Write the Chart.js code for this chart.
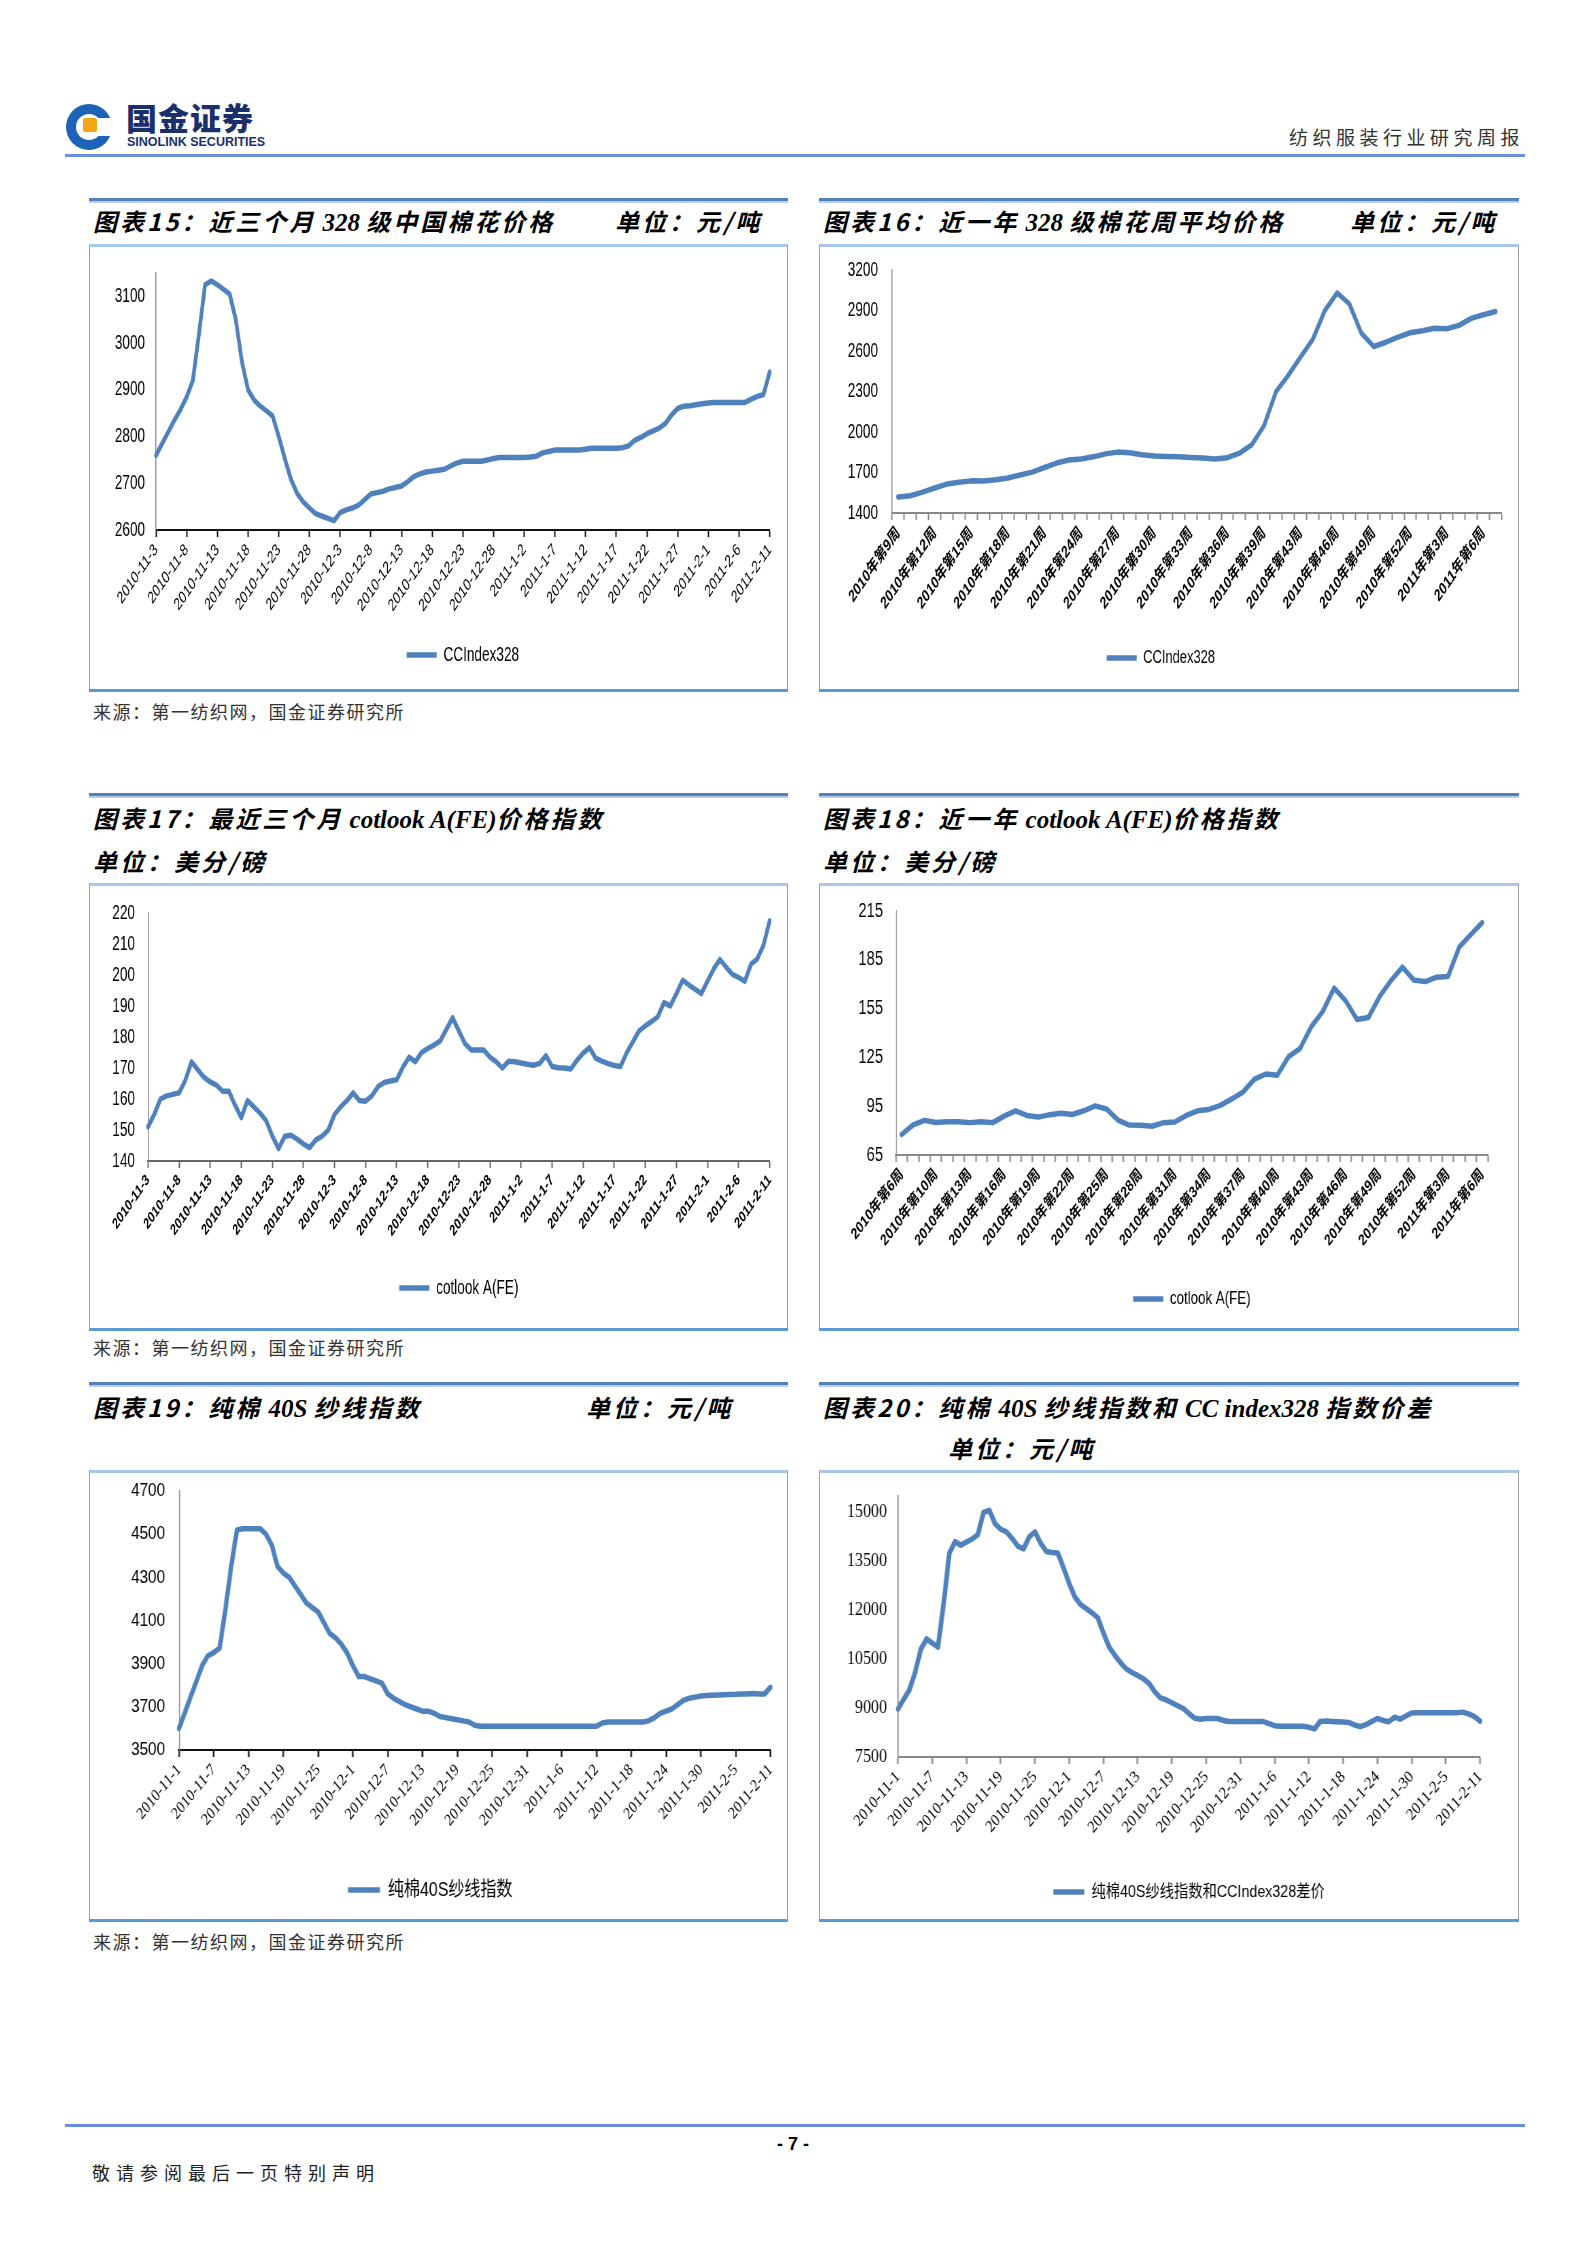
<!DOCTYPE html>
<html>
<head>
<meta charset="utf-8">
<title>纺织服装行业研究周报 - 7</title>
<script src="https://cdn.jsdelivr.net/npm/chart.js@4.4.1/dist/chart.umd.min.js"></script>
<style>
body { margin: 0; background: #fff; }
#page { position: relative; width: 1594px; height: 2252px; overflow: hidden; font-family: "Noto Sans CJK SC", sans-serif; color: #000; }
.abs { position: absolute; white-space: nowrap; line-height: 1; }
.rule { position: absolute; height: 3px; background: #4f81bd; border-bottom: 2px solid #b8cce4; }
.title { position: absolute; font-size: 24px; font-weight: bold; font-style: italic; letter-spacing: 3px; white-space: nowrap; line-height: 1; }
.title .lat { font-family: "Liberation Serif", serif; letter-spacing: 0; font-size: 25px; }
.box { position: absolute; border: 1px solid #a0a0a0; border-top: 3px solid #a9c7ea; box-sizing: border-box; }
.boxbot { position: absolute; height: 3px; background: #5b9bd5; }
.src { position: absolute; font-size: 18px; letter-spacing: 1.5px; color: #333; line-height: 1; white-space: nowrap; }
.wrap { position: absolute; transform-origin: 0 0; }
</style>
</head>
<body>
<div id="page">
  <!-- header -->
  <svg class="abs" style="left:64px;top:97px" width="52" height="56" viewBox="0 0 52 56">
    <circle cx="25" cy="30" r="23" fill="#1d64b8"/>
    <circle cx="25" cy="30" r="13" fill="#fff"/>
    <rect x="28" y="21" width="24" height="18" fill="#fff"/>
    <rect x="19" y="21" width="14" height="14" rx="2" fill="#f3a712"/>
  </svg>
  <div class="abs" style="left:126px;top:101px;font-size:31px;font-weight:900;color:#1b2f6b;letter-spacing:1px;">国金证券</div>
  <div class="abs" style="left:127px;top:136px;font-size:12.5px;font-weight:bold;font-family:'Liberation Sans',sans-serif;color:#1b2f6b;">SINOLINK SECURITIES</div>
  <div class="abs" style="left:1289px;top:127px;font-size:19px;letter-spacing:4.5px;color:#333;">纺织服装行业研究周报</div>
  <div class="abs" style="left:65px;top:154px;width:1460px;height:3px;background:#6a8ee0;"></div>

  <!-- row 1 -->
  <div class="rule" style="left:89px;top:198px;width:699px;"></div>
  <div class="rule" style="left:819px;top:198px;width:700px;"></div>
  <div class="title" style="left:93px;top:209px;">图表15：近三个月<span class="lat"> 328 </span>级中国棉花价格</div>
  <div class="title" style="left:615px;top:209px;">单位：元/吨</div>
  <div class="title" style="left:823px;top:209px;">图表16：近一年<span class="lat"> 328 </span>级棉花周平均价格</div>
  <div class="title" style="left:1350px;top:209px;">单位：元/吨</div>
  <div class="box" style="left:89px;top:244px;width:699px;height:446px;"></div>
  <div class="boxbot" style="left:89px;top:689px;width:699px;"></div>
  <div class="box" style="left:819px;top:244px;width:700px;height:446px;"></div>
  <div class="boxbot" style="left:819px;top:689px;width:700px;"></div>
  <div class="src" style="left:93px;top:702px;">来源：第一纺织网，国金证券研究所</div>

  <!-- row 2 -->
  <div class="rule" style="left:89px;top:793px;width:699px;"></div>
  <div class="rule" style="left:819px;top:793px;width:700px;"></div>
  <div class="title" style="left:93px;top:806px;">图表17：最近三个月<span class="lat"> cotlook A(FE)</span>价格指数</div>
  <div class="title" style="left:93px;top:849px;">单位：美分/磅</div>
  <div class="title" style="left:823px;top:806px;">图表18：近一年<span class="lat"> cotlook A(FE)</span>价格指数</div>
  <div class="title" style="left:823px;top:849px;">单位：美分/磅</div>
  <div class="box" style="left:89px;top:883px;width:699px;height:446px;"></div>
  <div class="boxbot" style="left:89px;top:1328px;width:699px;"></div>
  <div class="box" style="left:819px;top:883px;width:700px;height:446px;"></div>
  <div class="boxbot" style="left:819px;top:1328px;width:700px;"></div>
  <div class="src" style="left:93px;top:1338px;">来源：第一纺织网，国金证券研究所</div>

  <!-- row 3 -->
  <div class="rule" style="left:89px;top:1382px;width:699px;"></div>
  <div class="rule" style="left:819px;top:1382px;width:700px;"></div>
  <div class="title" style="left:93px;top:1395px;">图表19：纯棉<span class="lat"> 40S </span>纱线指数</div>
  <div class="title" style="left:586px;top:1395px;">单位：元/吨</div>
  <div class="title" style="left:823px;top:1395px;">图表20：纯棉<span class="lat"> 40S </span>纱线指数和<span class="lat"> CC index328 </span>指数价差</div>
  <div class="title" style="left:948px;top:1436px;">单位：元/吨</div>
  <div class="box" style="left:89px;top:1470px;width:699px;height:450px;"></div>
  <div class="boxbot" style="left:89px;top:1919px;width:699px;"></div>
  <div class="box" style="left:819px;top:1470px;width:700px;height:450px;"></div>
  <div class="boxbot" style="left:819px;top:1919px;width:700px;"></div>
  <div class="src" style="left:93px;top:1932px;">来源：第一纺织网，国金证券研究所</div>

  <!-- footer -->
  <div class="abs" style="left:65px;top:2124px;width:1460px;height:3px;background:#6a8ee0;"></div>
  <div class="abs" style="left:777px;top:2135px;font-size:18px;font-weight:bold;font-family:'Liberation Sans',sans-serif;">- 7 -</div>
  <div class="abs" style="left:92px;top:2163px;font-size:18px;letter-spacing:6px;color:#222;">敬请参阅最后一页特别声明</div>
</div>

<script>
// page 7 charts - cotton / yarn prices

const BLUE = '#4f81bd';

function range(a, b) {
    const r = [];
    for (let i = a; i <= b; i++) r.push(i);
    return r;
}

// daily category labels like 2010-11-3
function dayLabels(y, m, d, n) {
    const out = [];
    const t = new Date(y, m - 1, d);
    for (let i = 0; i < n; i++) {
        out.push(t.getFullYear() + '-' + (t.getMonth() + 1) + '-' + t.getDate());
        t.setDate(t.getDate() + 1);
    }
    return out;
}

// 图表15: CC Index 328, daily, 2010-11-3 .. 2011-2-11
const days15 = dayLabels(2010, 11, 3, 101);
const cc328Daily = [
    2760, 2785, 2810, 2835, 2858, 2885, 2920, 3020, 3125, 3133,
    3125, 3115, 3105, 3050, 2960, 2900, 2878, 2865, 2855, 2844,
    2800, 2752, 2708, 2678, 2660, 2647, 2635, 2630, 2625, 2620,
    2637, 2643, 2647, 2653, 2665, 2677, 2680, 2683, 2688, 2691,
    2694, 2703, 2714, 2720, 2724, 2726, 2728, 2730, 2737, 2743,
    2747, 2747, 2747, 2747, 2750, 2753, 2755, 2755, 2755, 2755,
    2755, 2756, 2758, 2765, 2768, 2771, 2771, 2771, 2771, 2771,
    2773, 2775, 2775, 2775, 2775, 2775, 2776, 2780, 2792, 2798,
    2806, 2812, 2818, 2828, 2846, 2860, 2865, 2866, 2868, 2870,
    2872, 2873, 2873, 2873, 2873, 2873, 2873, 2880, 2886, 2890,
    2938
];

// 图表16: CC Index 328, weekly average
const weeks16 = range(9, 39).concat(range(41, 52)).map(w => '2010年第' + w + '周')
    .concat(range(1, 7).map(w => '2011年第' + w + '周'));
const cc328Weekly = [
    1518, 1528, 1555, 1585, 1614, 1627, 1638, 1637, 1646, 1659,
    1682, 1703, 1737, 1770, 1792, 1800, 1816, 1838, 1851, 1846,
    1832, 1822, 1819, 1816, 1812, 1808, 1800, 1810, 1843, 1905,
    2045, 2300, 2420, 2555, 2685, 2900, 3030, 2950, 2731, 2633,
    2665, 2703, 2735, 2750, 2768, 2765, 2790, 2842, 2868, 2892
];

// 图表17: cotlook A(FE), daily
const days17 = dayLabels(2010, 11, 3, 101);
const cotlookDaily = [
    151, 155, 160, 161, 161.5, 162, 166, 172, 169.5, 167,
    165.5, 164.5, 162.5, 162.5, 158, 154, 159.5, 157.5, 155.5, 153,
    148, 144, 148, 148.3, 147, 145.5, 144.3, 146.8, 148, 150,
    155, 157.5, 159.5, 162, 159.5, 159.3, 161, 164, 165.3, 165.8,
    166.2, 170.3, 173.5, 172, 175, 176.3, 177.4, 178.7, 182.5, 186.2,
    182, 177.8, 175.8, 175.8, 175.8, 173.5, 172, 170, 172.2, 172,
    171.6, 171.2, 170.9, 171.5, 174, 170.5, 170.1, 170, 169.7, 172.5,
    174.8, 176.6, 173.2, 172.2, 171.4, 170.8, 170.5, 174.9, 178.5, 182,
    183.6, 185, 186.5, 191.1, 190, 194, 198.3, 196.8, 195.4, 194,
    198, 202, 205, 202.5, 200.2, 199.2, 198, 203.5, 205.2, 209.6,
    217.5
];

// 图表18: cotlook A(FE), weekly
const weeks18 = [6, 7, 8].concat(range(10, 52)).map(w => '2010年第' + w + '周')
    .concat(range(1, 6).map(w => '2011年第' + w + '周'));
const cotlookWeekly = [
    77.6, 83.5, 86.3, 85, 85.5, 85.5, 84.9, 85.5, 84.9, 88.9,
    92.1, 89.3, 88.3, 89.8, 90.7, 89.9, 92.2, 95.2, 93.3, 86.5,
    83.4, 83.3, 82.7, 84.9, 85.3, 89.3, 92.2, 93, 95.5, 99.5,
    103.8, 111.7, 114.8, 114, 125.5, 130.5, 144, 153.3, 167.6, 159.9,
    148.3, 149.5, 162.5, 172.3, 180.5, 172.5, 171.6, 174.3, 174.7, 193,
    200.5, 207.8
];

// 图表19: 纯棉40S纱线指数, daily 2010-11-1 .. 2011-2-11
const days19 = dayLabels(2010, 11, 1, 103);
const yarn40sDaily = [
    3600, 3672, 3746, 3818, 3892, 3937, 3951, 3972, 4150, 4350,
    4520, 4525, 4525, 4525, 4525, 4500, 4450, 4350, 4320, 4300,
    4260, 4220, 4180, 4160, 4140, 4090, 4040, 4020, 3990, 3950,
    3890, 3840, 3840, 3830, 3820, 3810, 3760, 3740, 3725, 3710,
    3700, 3690, 3680, 3680, 3670, 3655, 3650, 3645, 3640, 3635,
    3630, 3615, 3610, 3610, 3610, 3610, 3610, 3610, 3610, 3610,
    3610, 3610, 3610, 3610, 3610, 3610, 3610, 3610, 3610, 3610,
    3610, 3610, 3610, 3625, 3630, 3630, 3630, 3630, 3630, 3630,
    3630, 3635, 3650, 3670, 3680, 3690, 3710, 3730, 3740, 3745,
    3750, 3752, 3754, 3755, 3756, 3757, 3758, 3760, 3760, 3762,
    3760, 3760, 3790
];

// 图表20: 纯棉40S纱线指数和CCIndex328差价, daily
const days20 = dayLabels(2010, 11, 1, 103);
const yarnSpreadDaily = [
    8970, 9270, 9560, 10100, 10800, 11120, 10990, 10870, 12200, 13750,
    14100, 13990, 14090, 14180, 14320, 15000, 15060, 14650, 14480, 14400,
    14200, 13960, 13880, 14250, 14400, 14050, 13800, 13770, 13750, 13300,
    12820, 12400, 12170, 12050, 11920, 11770, 11300, 10870, 10616, 10390,
    10200, 10090, 9995, 9900, 9750, 9500, 9310, 9250, 9160, 9070,
    8985, 8830, 8690, 8660, 8680, 8680, 8680, 8620, 8588, 8588,
    8588, 8588, 8588, 8588, 8588, 8520, 8460, 8440, 8440, 8440,
    8440, 8440, 8410, 8360, 8590, 8600, 8588, 8580, 8570, 8560,
    8480, 8430, 8490, 8590, 8680, 8620, 8580, 8720, 8660, 8760,
    8852, 8855, 8860, 8860, 8860, 8860, 8860, 8860, 8860, 8875,
    8820, 8740, 8600
];

const SANS = "'Liberation Sans', 'Noto Sans CJK SC', sans-serif";
const SERIF = "'Liberation Serif', 'Noto Sans CJK SC', serif";

// The source charts were pasted squeezed sideways, so each canvas is
// drawn wider and scaled back with scaleX(s).
function makeChart(c) {
    const s = c.s;
    const cw = Math.round(c.W / s);
    const wrap = document.createElement('div');
    wrap.className = 'wrap';
    wrap.style.cssText = 'left:' + c.L + 'px;top:' + c.T + 'px;width:' + cw + 'px;height:' + c.H + 'px;transform:scaleX(' + s + ');';
    const canvas = document.createElement('canvas');
    canvas.width = cw;
    canvas.height = c.H;
    canvas.style.width = cw + 'px';
    canvas.style.height = c.H + 'px';
    wrap.appendChild(canvas);
    document.getElementById('page').appendChild(wrap);

    const padR = (c.L + c.W - c.plot.r) / s;
    const yW = (c.plot.l - c.L) / s;
    const padT = c.plot.t - c.T;
    const lp = 8;
    const xh = c.legendY - c.plot.b - lp - c.legendSize / 2;
    const padB = Math.max(0, c.H - (c.plot.b - c.T) - xh - (c.legendSize + lp + 10));

    const xTicks = {
        autoSkip: false,
        maxRotation: 45,
        minRotation: 45,
        padding: 3,
        color: '#000',
        font: c.xFont
    };
    if (c.labelEvery) {
        xTicks.callback = function(v, i) {
            return i % c.labelEvery === 0 ? this.getLabelForValue(v) : '';
        };
    }

    const xScale = {
        offset: c.offset,
        ticks: xTicks,
        grid: { drawOnChartArea: false, drawTicks: true, tickLength: 7, tickWidth: 2, tickColor: c.xColor, offset: c.offset },
        border: { display: true, color: c.xColor, width: 2 },
        afterFit: function(sc) {
            sc.height = xh;
            sc.paddingLeft = 0;
            sc.paddingRight = 0;
        }
    };
    if (c.tickEvery) {
        xScale.afterBuildTicks = function(sc) {
            sc.ticks = sc.ticks.filter(t => t.value % c.tickEvery === 0);
        };
    }

    new Chart(canvas, {
        type: 'line',
        data: {
            labels: c.labels,
            datasets: [{
                label: c.name,
                data: c.data,
                borderColor: BLUE,
                backgroundColor: BLUE,
                borderWidth: 5.5,
                pointRadius: 0,
                pointHoverRadius: 0,
                pointStyle: 'line',
                tension: 0,
                borderJoinStyle: 'round',
                borderCapStyle: 'round'
            }]
        },
        options: {
            responsive: false,
            animation: false,
            layout: { padding: { left: 0, right: padR, top: padT, bottom: padB } },
            plugins: {
                legend: {
                    position: 'bottom',
                    fullSize: c.legendFull,
                    labels: {
                        usePointStyle: true,
                        pointStyle: 'line',
                        pointStyleWidth: c.legendLine / s,
                        padding: lp,
                        color: '#000',
                        font: { family: SANS, size: c.legendSize }
                    }
                },
                tooltip: { enabled: false }
            },
            scales: {
                x: xScale,
                y: {
                    min: c.yMin,
                    max: c.yMax,
                    ticks: {
                        autoSkip: false,
                        padding: c.gap / s,
                        color: '#000',
                        font: c.yFont,
                        callback: v => String(v)
                    },
                    // Excel-style fixed major unit; the axis top may sit above the last label
                    afterBuildTicks: function(sc) {
                        const t = [];
                        for (let v = c.yMin; v <= c.yMax; v += c.yStep) t.push({ value: v });
                        sc.ticks = t;
                    },
                    grid: { display: false, drawTicks: false },
                    border: { display: true, color: c.yColor, width: 1.5 },
                    afterFit: function(sc) {
                        sc.width = yW;
                        sc.paddingTop = 0;
                        sc.paddingBottom = 0;
                    }
                }
            }
        }
    });
}

window.onload = function() {
    makeChart({
        L: 90, T: 247, W: 698, H: 441, s: 0.68,
        plot: { l: 156, t: 273, r: 770, b: 530 },
        legendFull: false, legendY: 655, legendSize: 20, legendLine: 30, gap: 11,
        labels: days15, data: cc328Daily, name: 'CCIndex328',
        yMin: 2600, yMax: 3150, yStep: 100,
        yFont: { family: SANS, size: 20 }, xFont: { family: SANS, size: 17 },
        tickEvery: 5, offset: false, xColor: '#111', yColor: '#888'
    });
    makeChart({
        L: 820, T: 247, W: 698, H: 441, s: 0.68,
        plot: { l: 892, t: 270, r: 1502, b: 513 },
        legendFull: true, legendY: 658, legendSize: 19, legendLine: 30, gap: 14,
        labels: weeks16, data: cc328Weekly, name: 'CCIndex328',
        yMin: 1400, yMax: 3200, yStep: 300,
        yFont: { family: SANS, size: 20 }, xFont: { family: SANS, size: 17, weight: 'bold' },
        labelEvery: 3, offset: true, xColor: '#888', yColor: '#888'
    });
    makeChart({
        L: 90, T: 886, W: 698, H: 441, s: 0.68,
        plot: { l: 148, t: 913, r: 770, b: 1161 },
        legendFull: false, legendY: 1288, legendSize: 20, legendLine: 30, gap: 13,
        labels: days17, data: cotlookDaily, name: 'cotlook A(FE)',
        yMin: 140, yMax: 220, yStep: 10,
        yFont: { family: SANS, size: 20 }, xFont: { family: SANS, size: 15.5, weight: 'bold' },
        tickEvery: 5, offset: false, xColor: '#666', yColor: '#888'
    });
    makeChart({
        L: 821, T: 886, W: 698, H: 441, s: 0.74,
        plot: { l: 896, t: 911, r: 1488, b: 1155 },
        legendFull: false, legendY: 1299, legendSize: 18, legendLine: 30, gap: 13,
        labels: weeks18, data: cotlookWeekly, name: 'cotlook A(FE)',
        yMin: 65, yMax: 215, yStep: 30,
        yFont: { family: SANS, size: 20 }, xFont: { family: SANS, size: 16, weight: 'bold' },
        labelEvery: 3, offset: true, xColor: '#888', yColor: '#888'
    });
    makeChart({
        L: 90, T: 1474, W: 698, H: 444, s: 0.8,
        plot: { l: 179, t: 1491, r: 770, b: 1750 },
        legendFull: true, legendY: 1890, legendSize: 20, legendLine: 32, gap: 14,
        labels: days19, data: yarn40sDaily, name: '纯棉40S纱线指数',
        yMin: 3500, yMax: 4700, yStep: 200,
        yFont: { family: SANS, size: 19 }, xFont: { family: SERIF, size: 17 },
        tickEvery: 6, offset: false, xColor: '#111', yColor: '#888'
    });
    makeChart({
        L: 821, T: 1474, W: 698, H: 444, s: 0.84,
        plot: { l: 898, t: 1496, r: 1480, b: 1757 },
        legendFull: false, legendY: 1892, legendSize: 17, legendLine: 31, gap: 11,
        labels: days20, data: yarnSpreadDaily, name: '纯棉40S纱线指数和CCIndex328差价',
        yMin: 7500, yMax: 15500, yStep: 1500,
        yFont: { family: SERIF, size: 19 }, xFont: { family: SERIF, size: 17 },
        tickEvery: 6, offset: false, xColor: '#888', yColor: '#888'
    });
};
</script>
</body>
</html>
